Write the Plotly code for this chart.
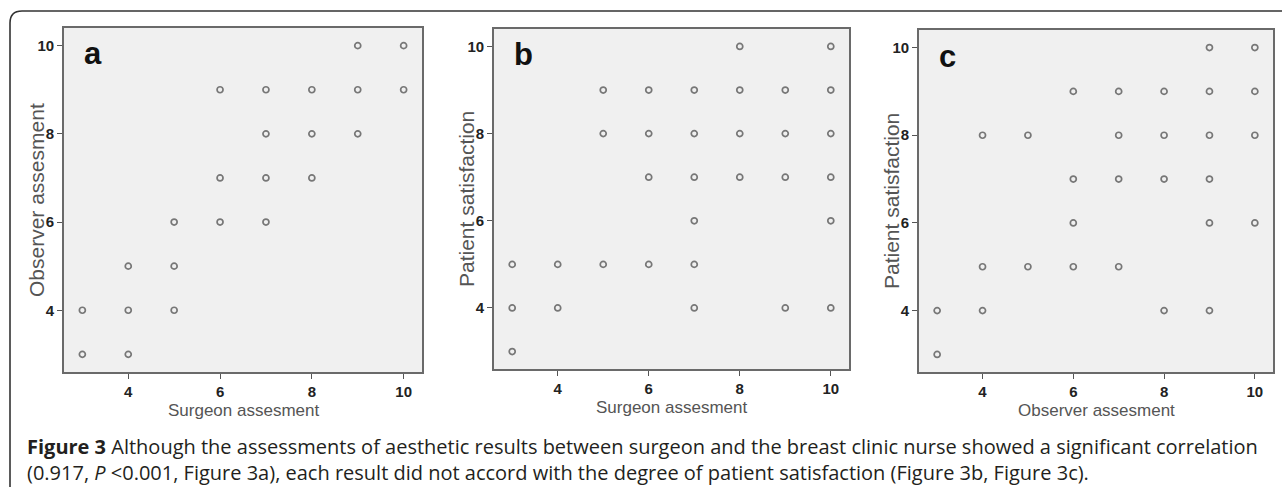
import plotly.graph_objects as go

W, H = 1282, 487

# ---- data ----
a_surgeon = [9, 10, 6, 7, 8, 9, 10, 7, 8, 9, 6, 7, 8, 5, 6, 7, 4, 5, 3, 4, 5, 3, 4]
a_observer = [10, 10, 9, 9, 9, 9, 9, 8, 8, 8, 7, 7, 7, 6, 6, 6, 5, 5, 4, 4, 4, 3, 3]

b_surgeon = [8, 10,
             5, 6, 7, 8, 9, 10,
             5, 6, 7, 8, 9, 10,
             6, 7, 8, 9, 10,
             7, 10,
             3, 4, 5, 6, 7,
             3, 4, 7, 9, 10,
             3]
b_patient = [10, 10,
             9, 9, 9, 9, 9, 9,
             8, 8, 8, 8, 8, 8,
             7, 7, 7, 7, 7,
             6, 6,
             5, 5, 5, 5, 5,
             4, 4, 4, 4, 4,
             3]

c_observer = [9, 10,
              6, 7, 8, 9, 10,
              4, 5, 7, 8, 9, 10,
              6, 7, 8, 9,
              6, 9, 10,
              4, 5, 6, 7,
              3, 4, 8, 9,
              3]
c_patient = [10, 10,
             9, 9, 9, 9, 9,
             8, 8, 8, 8, 8, 8,
             7, 7, 7, 7,
             6, 6, 6,
             5, 5, 5, 5,
             4, 4, 4, 4,
             3]

panel_letters = ["a", "b", "c"]
x_titles = ["Surgeon assesment", "Surgeon assesment", "Observer assesment"]
y_titles = ["Observer assesment", "Patient satisfaction", "Patient satisfaction"]
tick_vals = [4, 6, 8, 10]
tick_text = ["4", "6", "8", "10"]

caption_1 = ("<b>Figure 3</b> Although the assessments of aesthetic results between surgeon "
             "and the breast clinic nurse showed a significant correlation")
caption_2 = ("(0.917, <i>P</i> &lt;0.001, Figure 3a), each result did not accord with the "
             "degree of patient satisfaction (Figure 3b, Figure 3c).")

# ---- layout geometry (pixels) ----
boxes = [(64, 422, 28, 372), (494, 849, 29, 369), (919, 1273, 30, 372)]


def fx(px):
    return px / W


def fy(py):
    return 1 - py / H


fig = go.Figure()
series = [(a_surgeon, a_observer), (b_surgeon, b_patient), (c_observer, c_patient)]
for i, (xs, ys) in enumerate(series):
    sfx = "" if i == 0 else str(i + 1)
    fig.add_trace(go.Scatter(
        x=xs, y=ys, mode="markers", xaxis="x" + sfx, yaxis="y" + sfx,
        marker=dict(symbol="circle-open", size=6, color="#777777",
                    line=dict(width=1.7, color="#777777")),
        showlegend=False, hoverinfo="x+y"))

layout = dict(width=W, height=H, margin=dict(l=0, r=0, t=0, b=0),
              paper_bgcolor="white", plot_bgcolor="#f0f0f0", showlegend=False)

axis_common = dict(range=[2.6, 10.4], tickvals=tick_vals, ticktext=tick_text,
                   showgrid=False, zeroline=False, showline=True, mirror=True,
                   linecolor="#6a6a6a", linewidth=1.7, ticks="outside", ticklen=5,
                   tickwidth=1, tickcolor="#555",
                   tickfont=dict(family="Liberation Sans, Arial", size=15, color="#222",
                                 weight="bold"))

annotations = []
for i, (l, r, t, b) in enumerate(boxes):
    sfx = "" if i == 0 else str(i + 1)
    layout["xaxis" + sfx] = dict(axis_common, domain=[fx(l), fx(r)], anchor="y" + sfx)
    layout["yaxis" + sfx] = dict(axis_common, domain=[fy(b), fy(t)], anchor="x" + sfx)
    # x title
    annotations.append(dict(text=x_titles[i], xref="paper", yref="paper",
                            x=fx((l + r) / 2), y=fy(b + 38), xanchor="center", yanchor="middle",
                            showarrow=False,
                            font=dict(family="Liberation Sans, Arial", size=17, color="#555")))
    # y title
    annotations.append(dict(text=y_titles[i], xref="paper", yref="paper",
                            x=fx(l - 28), y=fy((t + b) / 2), xanchor="center", yanchor="middle",
                            textangle=-90, showarrow=False,
                            font=dict(family="Liberation Sans, Arial", size=21, color="#555")))
    # panel letter
    annotations.append(dict(text="<b>%s</b>" % panel_letters[i], xref="paper", yref="paper",
                            x=fx(l + 18), y=fy(t + 26), xanchor="left", yanchor="middle",
                            showarrow=False,
                            font=dict(family="Liberation Sans, Arial", size=31, color="#111")))

annotations.append(dict(text=caption_1, xref="paper", yref="paper", x=fx(25), y=fy(446),
                        xanchor="left", yanchor="middle", showarrow=False,
                        font=dict(family="Open Sans", size=20, color="#231f20")))
annotations.append(dict(text=caption_2, xref="paper", yref="paper", x=fx(25), y=fy(472),
                        xanchor="left", yanchor="middle", showarrow=False,
                        font=dict(family="Open Sans", size=20, color="#231f20")))
layout["annotations"] = annotations

x0, yt = fx(10), fy(11)
rx, ry = 12 / W, 12 / H
layout["shapes"] = [dict(type="path", xref="paper", yref="paper",
                         path=f"M {x0},0 L {x0},{yt - ry} Q {x0},{yt} {x0 + rx},{yt} L 1,{yt}",
                         line=dict(color="#333", width=1.6))]

fig.update_layout(**layout)
fig.write_html("out.html", config={"displayModeBar": False},
               post_script="document.body.style.margin='0';document.body.style.overflow='hidden';")
